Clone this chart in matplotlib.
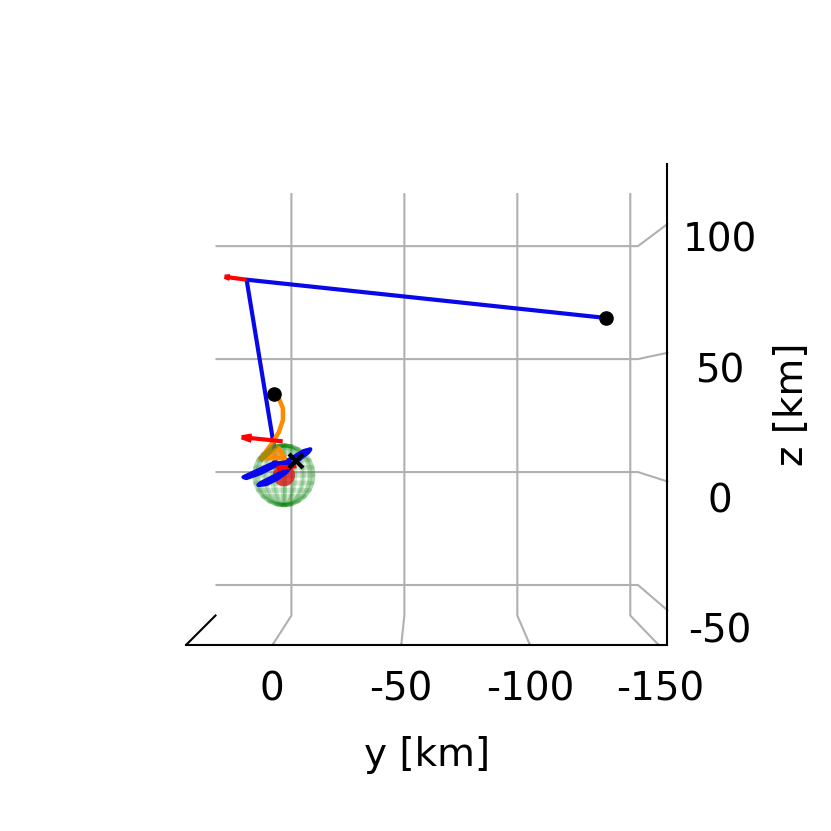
import numpy as np
import matplotlib
matplotlib.use("Agg")
import matplotlib.pyplot as plt
from mpl_toolkits.mplot3d.art3d import Poly3DCollection

# view limits (km)
XLIM = (-93.5, 93.5)
YLIM = (-153.4, 33.6)
ZLIM = (-63.5, 123.5)
Y_TICKS = [0, -50, -100, -150]
Z_TICKS = [100, 50, 0, -50]

# transfer trajectory (km)
blue_y = [-134.3, 15.0, 3.7, 3.0, 9.2, 16.3, 15.1, 9.2, 3.4, -3.2, -8.6, -11.5, -10.7, -5.3, 1.8, 9.2, 10.1, 6.8, 1.8, -1.5, -4.4, 3.4]
blue_z = [65.9, 81.8, 13.0, 5.9, 3.0, -0.3, -0.7, 1.4, 4.3, 7.2, 10.5, 11.3, 10.1, 5.9, 1.0, -2.8, -3.6, -3.2, -0.7, 1.8, 5.5, 5.5]
blue_x = [0.0] * len(blue_y)

# approach arc (km)
orange_y = [3.7, 1.6, -0.1, -0.1, 1.6, 4.1, 6.6, 8.7, 1.6, -0.9, 8.7]
orange_z = [34.1, 32.5, 28.3, 23.4, 18.4, 14.2, 10.9, 7.6, 11.7, 7.6, 7.6]
orange_x = [0.0] * len(orange_y)

# settled patch and its darker edge (km)
patch_y = [8.7, 1.6, -0.9]
patch_z = [7.6, 11.7, 7.6]
edge_y = [8.7, 3.7]
edge_z = [7.6, 12.2]

# attitude arrows: base and direction (km)
arrow_x = [0, 0, 0]
arrow_y = [15.0, 0.0, -5.7]
arrow_z = [81.8, 14.6, 4.3]
arrow_u = [0, 0, 0]
arrow_v = [9.1, 17.0, 8.0]
arrow_w = [1.2, 1.7, -1.0]

# bodies: radii (km) and centre
GREEN_R = 12.5
RED_R = 4.6
CENTRE = (0.0, -0.5, 0.5)
# end markers
dots_y = [-134.3, 3.5]
dots_z = [65.9, 34.3]
dots_x = [0, 0]
cross = (0.0, -5.4, 6.4)

fig = plt.figure(figsize=(8.31, 8.31), dpi=100)
ax = fig.add_axes([0, 0, 1, 1], projection="3d")
ax.computed_zorder = False
ax.set_box_aspect((1, 1, 1), zoom=0.91)
ax.view_init(elev=0, azim=180)
ax.set_proj_type("persp", focal_length=0.775)
ax.set_xlim(*XLIM); ax.set_ylim(*YLIM); ax.set_zlim(*ZLIM)
ax.set_xticks([]); ax.set_yticks(Y_TICKS); ax.set_zticks(Z_TICKS)
ax.set_yticklabels(["0", "-50", "-100", "-150"])
ax.set_zticklabels(["100", "50", "0", "-50"], ha="center")
ax.tick_params(labelsize=28)
ax.tick_params(axis="y", pad=7.5)
ax.tick_params(axis="z", pad=23.5)
ax.set_ylabel("y [km]", fontsize=28, labelpad=44)
ax.set_zlabel("z [km]", fontsize=28, labelpad=52)
for a in (ax.xaxis, ax.yaxis, ax.zaxis):
    a.set_pane_color((1, 1, 1, 1))
    a.pane.set_edgecolor((1, 1, 1, 0))
    a.line.set_linewidth(1.5)
    a._axinfo["grid"]["color"] = "#b0b0b0"
    a._axinfo["grid"]["linewidth"] = 1.5

u = np.linspace(0, 2 * np.pi, 19)
v = np.linspace(0, np.pi, 13)
su, sv = np.meshgrid(u, v)
ux, uy, uz = np.cos(su) * np.sin(sv), np.sin(su) * np.sin(sv), np.cos(sv)
ax.plot_wireframe(CENTRE[0] + GREEN_R * ux, CENTRE[1] + GREEN_R * uy, CENTRE[2] + GREEN_R * uz,
                  color="green", alpha=0.18, linewidth=2.8, zorder=3)
ax.plot_surface(CENTRE[0] + RED_R * ux, CENTRE[1] + RED_R * uy, CENTRE[2] + RED_R * uz,
                color="#e01010", alpha=0.55, linewidth=0, shade=False, zorder=4)
ax.plot(blue_x, blue_y, blue_z, color="#0808e8", lw=3, zorder=5)
ax.add_collection3d(Poly3DCollection([list(zip([0.0] * 3, patch_y, patch_z))],
                                     facecolor="#e8a030", edgecolor="none", alpha=0.9, zorder=6))
ax.plot(orange_x, orange_y, orange_z, color="darkorange", lw=3.2, zorder=6)
ax.plot([0, 0], edge_y, edge_z, color="#8a8a10", lw=4.5, alpha=0.75, zorder=6.5)
ax.quiver(arrow_x, arrow_y, arrow_z, arrow_u, arrow_v, arrow_w, color="red", lw=3,
          arrow_length_ratio=0.25, zorder=7)
ax.plot([cross[0]], [cross[1]], [cross[2]], marker="x", color="black", ms=10, mew=3, zorder=8)
ax.plot(dots_x, dots_y, dots_z, ls="", marker="o", color="black", ms=9.5, zorder=9)
fig.savefig("out.png", dpi=100)
